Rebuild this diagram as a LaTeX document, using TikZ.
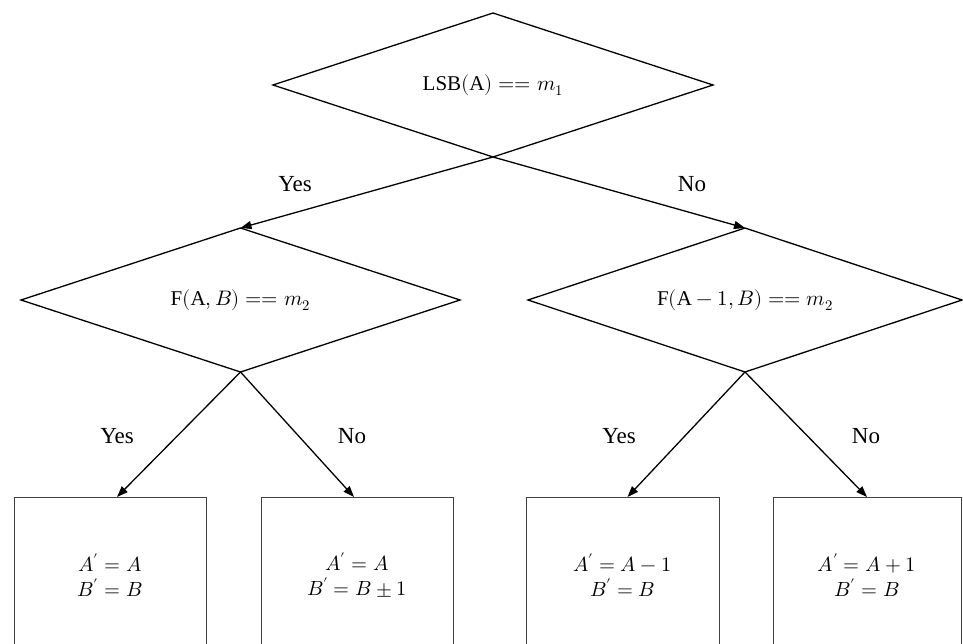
\documentclass[tikz,border=0pt]{standalone}
\usepackage{fontspec}
\usepackage{unicode-math}
\setmainfont{Liberation Serif}
\usetikzlibrary{shapes.geometric,arrows.meta}
\begin{document}
\begin{tikzpicture}[x=1pt,y=-1pt,
  dec/.style={diamond, aspect=3, draw, line width=1.3pt, inner sep=0pt, outer sep=0pt,
    font=\fontsize{21}{25}\selectfont},
  res/.style={rectangle, draw=black!75, line width=1pt, outer sep=0pt,
    align=center, minimum height=156pt, font=\fontsize{20.5}{25}\selectfont},
  lab/.style={inner sep=0pt, font=\fontsize{23}{27}\selectfont},
  arr/.style={line width=1.3pt, -{Triangle[length=11pt,width=8pt]}}]
\useasboundingbox (0,0) rectangle (963,644);
\clip (0,0) rectangle (963,644);
% decisions
\node[dec, minimum width=440pt, minimum height=144pt] (d0) at (493,85) {$\mathrm{LSB(A)} == m_1$};
\node[dec, minimum width=439pt, minimum height=144pt] (d1) at (240.5,300) {$\mathrm{F(A},B) == m_2$};
\node[dec, minimum width=434pt, minimum height=144pt] (d2) at (745,300) {$\mathrm{F(A}-1,B) == m_2$};
% results
\node[res, minimum width=192pt] (b1) at (110,575) {$A' = A$\\$B' = B$};
\node[res, minimum width=192pt] (b2) at (357,575) {$A' = A$\\$B' = B \pm 1$};
\node[res, minimum width=193pt] (b3) at (622.5,575) {$A' = A - 1$\\$B' = B$};
\node[res, minimum width=188pt] (b4) at (867,575) {$A' = A + 1$\\$B' = B$};
% connectors
\draw[arr] (d0.south) -- (d1.north);
\draw[arr] (d0.south) -- (d2.north);
\draw[arr] (d1.south) -- ([xshift=7pt]b1.north);
\draw[arr] (d1.south) -- ([xshift=-3pt]b2.north);
\draw[arr] (d2.south) -- ([xshift=5pt]b3.north);
\draw[arr] (d2.south) -- (b4.north);
% labels
\node[lab] (l0) at (295,184) {Yes};
\node[lab] (l1) at (692,184) {No};
\node[lab] (l2) at (117,436) {Yes};
\node[lab] (l3) at (352,436) {No};
\node[lab] (l4) at (619,436) {Yes};
\node[lab] (l5) at (866,436) {No};
\end{tikzpicture}
\end{document}
